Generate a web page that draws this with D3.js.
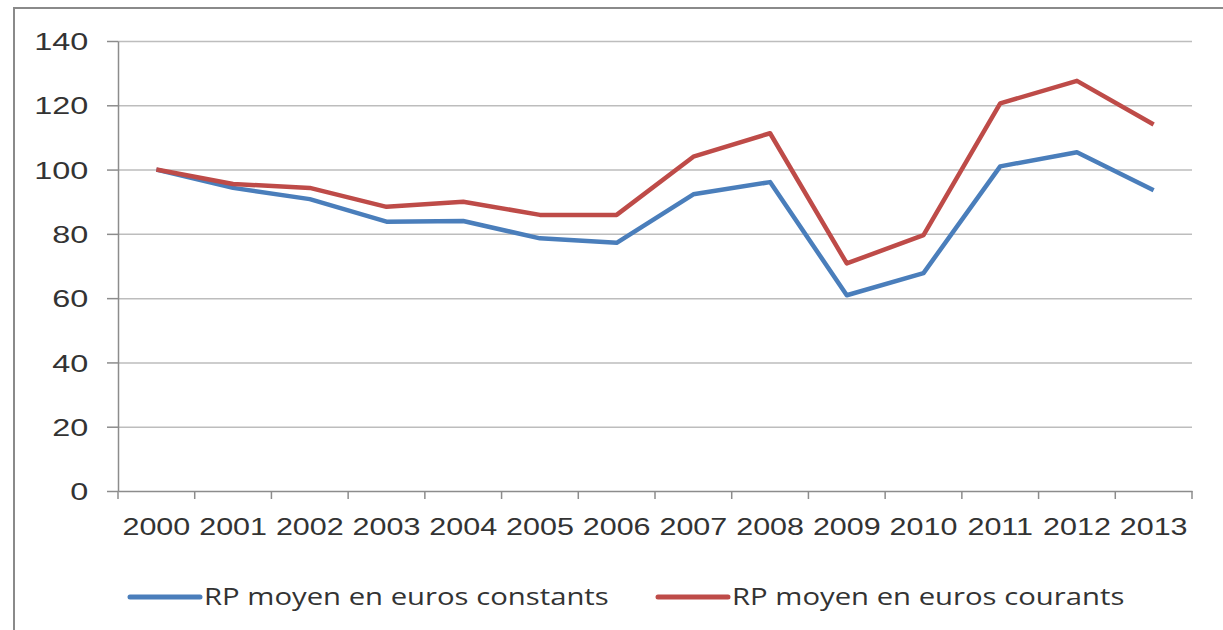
<!DOCTYPE html>
<html>
<head>
<meta charset="utf-8">
<title>RP moyen</title>
<style>
  body { margin: 0; background: #fff; }
  svg { display: block; font-family: "Open Sans", "Liberation Sans", sans-serif; }
  .grid line { stroke: #bdbdbd; stroke-width: 1.5; }
  .grid .domain { display: none; }
  .axis path, .axis line { stroke: #8c8c8c; stroke-width: 1.5; }
  .axis text { fill: #333; font-size: 24px; }
  .legend text { fill: #333; font-size: 24px; }
</style>
</head>
<body>
<svg width="1223" height="630"></svg>
<script src="https://cdn.jsdelivr.net/npm/d3@7"></script>
<script>
const years = ["2000", "2001", "2002", "2003", "2004", "2005", "2006",
               "2007", "2008", "2009", "2010", "2011", "2012", "2013"];
const constants = [100, 94.3, 90.8, 83.8, 84.0, 78.6, 77.2, 92.3, 96.1, 60.9, 67.8, 101.0, 105.4, 93.6];
const courants  = [100, 95.5, 94.3, 88.4, 90.0, 85.9, 85.9, 104.0, 111.3, 70.8, 79.6, 120.6, 127.6, 114.0];
const yTicks = [0, 20, 40, 60, 80, 100, 120, 140];
const seriesNames = ["RP moyen en euros constants", "RP moyen en euros courants"];
const colors = ["#4a7ebb", "#be4b48"];

const svg = d3.select("svg");
const plotLeft = 118, plotRight = 1192, plotTop = 41, plotBottom = 491;

// outer chart frame
svg.append("path")
    .attr("d", "M14,630 V8 H1223")
    .attr("fill", "none")
    .attr("stroke", "#8a8a8a")
    .attr("stroke-width", 2);

const x = d3.scaleBand().domain(years).range([plotLeft, plotRight]);
const y = d3.scaleLinear().domain([0, 140]).range([plotBottom, plotTop]);

// horizontal gridlines
svg.append("g")
    .attr("class", "grid")
    .attr("transform", `translate(${plotLeft},0)`)
    .call(d3.axisRight(y).tickValues(yTicks.filter(d => d > 0)).tickSize(plotRight - plotLeft).tickFormat(""));

// y axis
const yAxis = svg.append("g")
    .attr("class", "axis")
    .attr("transform", `translate(${plotLeft},0)`)
    .call(d3.axisLeft(y).tickValues(yTicks).tickSize(11).tickSizeOuter(0).tickPadding(11));
yAxis.selectAll("text").attr("transform", "scale(1.35,1)").attr("dy", "0.36em");

// x axis, ticks on band edges
const xAxis = svg.append("g")
    .attr("class", "axis")
    .attr("transform", `translate(0,${plotBottom})`)
    .call(d3.axisBottom(x).tickSize(0).tickPadding(27));
xAxis.selectAll("text").attr("transform", "scale(1.27,1)");
xAxis.selectAll(".edge")
    .data(years.map(d => x(d)).concat([plotRight]))
    .enter().append("line")
    .attr("class", "edge")
    .attr("x1", d => d).attr("x2", d => d)
    .attr("y1", 0).attr("y2", 8);

const line = d3.line()
    .x((d, i) => x(years[i]) + x.bandwidth() / 2)
    .y(d => y(d));

[constants, courants].forEach((s, k) => {
  svg.append("path")
      .datum(s)
      .attr("fill", "none")
      .attr("stroke", colors[k])
      .attr("stroke-width", 4.5)
      .attr("stroke-linejoin", "round")
      .attr("d", line);
});

// legend
const legendX = [130, 658];
const legend = svg.append("g").attr("class", "legend");
seriesNames.forEach((name, k) => {
  legend.append("line")
      .attr("x1", legendX[k]).attr("x2", legendX[k] + 70)
      .attr("y1", 597).attr("y2", 597)
      .attr("stroke", colors[k])
      .attr("stroke-width", 5)
      .attr("stroke-linecap", "round");
  legend.append("text")
      .attr("transform", `translate(${legendX[k] + 74},605) scale(1.22,1)`)
      .text(name);
});
</script>
</body>
</html>
